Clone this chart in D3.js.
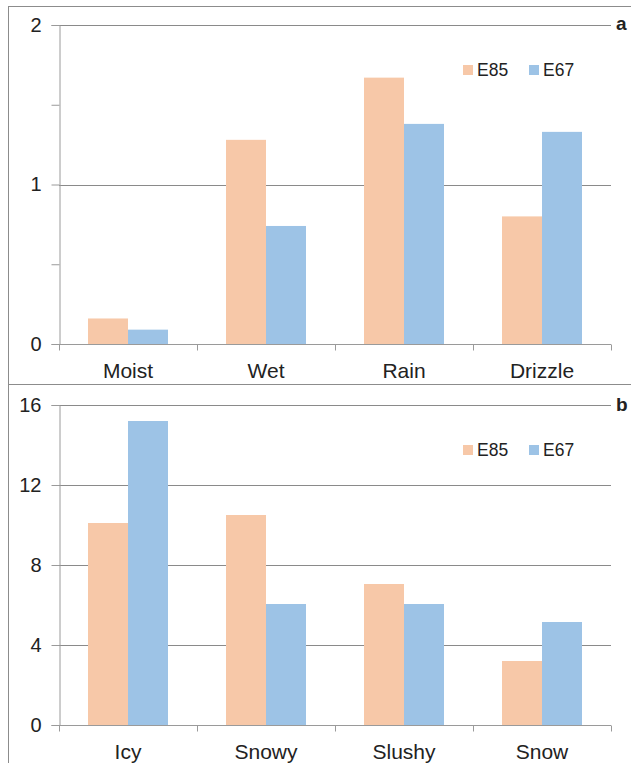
<!DOCTYPE html>
<html>
<head>
<meta charset="utf-8">
<script src="https://cdn.jsdelivr.net/npm/d3@7"></script>
<style>
  body { margin: 0; background: #fff; }
  svg text { font-family: "Liberation Sans", Arial, sans-serif; fill: #222; }
</style>
</head>
<body>
<div id="chart"></div>
<script>
//Datos
const series = ['E85', 'E67'];
const catsA = ['Moist', 'Wet', 'Rain', 'Drizzle'];
const e85A = [0.16, 1.28, 1.67, 0.80];
const e67A = [0.09, 0.74, 1.38, 1.33];
const ticksA = [0, 1, 2];
const minorA = [0.5, 1.5];

const catsB = ['Icy', 'Snowy', 'Slushy', 'Snow'];
const e85B = [10.1, 10.5, 7.05, 3.2];
const e67B = [15.2, 6.05, 6.05, 5.15];
const ticksB = [0, 4, 8, 12, 16];
const minorB = [];

//Colores fijos
const COLOR_E85 = '#F7C8A8',
COLOR_E67 = '#9DC3E6';

let svg = d3.select('#chart')
    .append('svg')
    .attr('width', 631)
    .attr('height', 763);

function drawPanel(opts) {
    let g = svg.append('g').attr('transform', 'translate(0,' + opts.top + ')');

    //Marco del panel
    g.append('rect')
        .attr('x', 8.5).attr('y', 0.5)
        .attr('width', 640).attr('height', opts.frameH)
        .attr('fill', 'none')
        .attr('stroke', '#8c8c8c')
        .attr('stroke-width', 1);

    let x = d3.scaleBand()
        .domain(opts.cats)
        .range([59, 611]);

    let xSub = d3.scaleBand()
        .domain(series)
        .range([0, x.bandwidth()])
        .paddingOuter(0.725);

    let y = d3.scaleLinear()
        .domain([0, opts.max])
        .range([opts.zero, opts.topY]);

    //Líneas de rejilla
    g.selectAll('.grid')
        .data(opts.ticks.filter(function(d) { return d > 0; }))
        .enter()
        .append('line')
        .attr('x1', 59).attr('x2', 611)
        .attr('y1', function(d) { return Math.round(y(d)) + 0.5; })
        .attr('y2', function(d) { return Math.round(y(d)) + 0.5; })
        .attr('stroke', '#8a8a8a');

    //Barras
    let rows = opts.cats.map(function(c, i) {
        return { cat: c, E85: opts.e85[i], E67: opts.e67[i] };
    });

    g.selectAll('.grp')
        .data(rows)
        .enter()
        .append('g')
        .attr('transform', function(d) { return 'translate(' + x(d.cat) + ',0)'; })
        .selectAll('rect')
        .data(function(d) { return series.map(function(s) { return { key: s, value: d[s] }; }); })
        .enter()
        .append('rect')
        .attr('x', function(d) { return xSub(d.key); })
        .attr('width', xSub.bandwidth())
        .attr('y', function(d) { return y(d.value); })
        .attr('height', function(d) { return y(0) - y(d.value); })
        .attr('fill', function(d) { return d.key == 'E85' ? COLOR_E85 : COLOR_E67; });

    //Eje Y
    let yAxis = d3.axisLeft(y)
        .tickValues(opts.ticks.concat(opts.minor))
        .tickSize(8)
        .tickPadding(10)
        .tickFormat(function(d) { return opts.ticks.indexOf(d) >= 0 ? d : ''; });

    let ya = g.append('g')
        .attr('transform', 'translate(59.5,0)')
        .call(yAxis);
    ya.selectAll('.domain').attr('stroke', '#9a9a9a');
    ya.selectAll('.tick line').attr('stroke', '#9a9a9a');
    ya.selectAll('.tick text')
        .style('font-size', '20px')
        .attr('fill', '#222');

    //Eje X
    let xa = g.append('g').attr('transform', 'translate(0,' + (Math.round(y(0)) + 0.5) + ')');
    xa.append('line')
        .attr('x1', 59).attr('x2', 611)
        .attr('stroke', '#9a9a9a');
    xa.selectAll('.xt')
        .data(opts.cats.concat(['end']))
        .enter()
        .append('line')
        .attr('x1', function(d, i) { return Math.round(59 + i * x.step()) + 0.5; })
        .attr('x2', function(d, i) { return Math.round(59 + i * x.step()) + 0.5; })
        .attr('y1', 0).attr('y2', 6)
        .attr('stroke', '#9a9a9a');
    xa.selectAll('.xl')
        .data(opts.cats)
        .enter()
        .append('text')
        .attr('x', function(d) { return x(d) + x.bandwidth() / 2; })
        .attr('y', 33)
        .attr('text-anchor', 'middle')
        .style('font-size', '21px')
        .text(function(d) { return d; });

    //Leyenda
    let lg = g.append('g');
    series.forEach(function(s, i) {
        lg.append('rect')
            .attr('x', 463 + i * 66).attr('y', opts.legY - 5)
            .attr('width', 10).attr('height', 10)
            .attr('fill', s == 'E85' ? COLOR_E85 : COLOR_E67);
        lg.append('text')
            .attr('x', 477 + i * 66).attr('y', opts.legY + 6)
            .style('font-size', '17.5px')
            .text(s);
    });

    //Letra del panel
    g.append('text')
        .attr('x', 616).attr('y', opts.letterY)
        .style('font-size', '19px')
        .style('font-weight', 'bold')
        .text(opts.letter);
}

drawPanel({ top: 6, frameH: 378, cats: catsA, e85: e85A, e67: e67A, ticks: ticksA, minor: minorA,
    max: 2, zero: 338, topY: 19, legY: 64, letter: 'a', letterY: 24 });
drawPanel({ top: 384, frameH: 400, cats: catsB, e85: e85B, e67: e67B, ticks: ticksB, minor: minorB,
    max: 16, zero: 341, topY: 21, legY: 66, letter: 'b', letterY: 27 });
</script>
</body>
</html>
